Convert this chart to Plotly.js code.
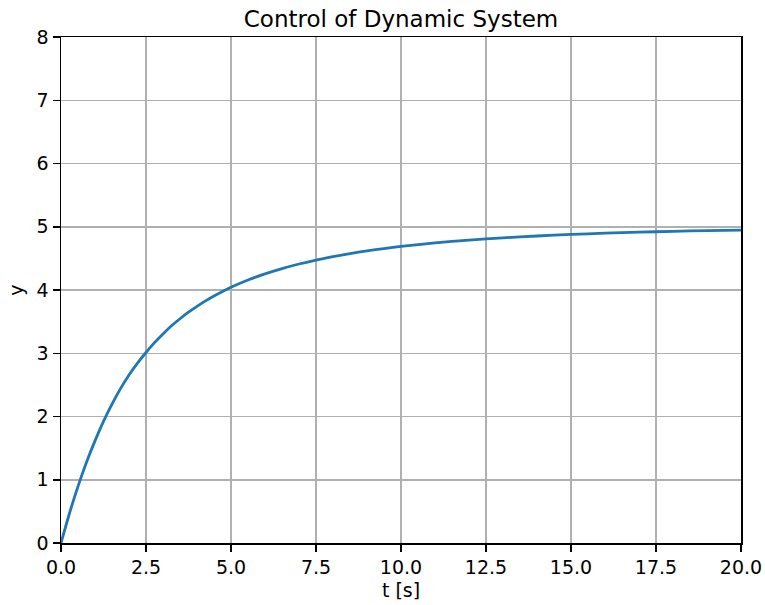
<!DOCTYPE html>
<html>
<head>
<meta charset="utf-8">
<script src="https://cdn.plot.ly/plotly-3.0.1.min.js"></script>
<style>html,body{margin:0;padding:0;background:#fff;}#chart{width:765px;height:605px;}</style>
</head>
<body>
<div id="chart"></div>
<script>
const tValues = [0, 0.25, 0.5, 0.75, 1.0, 1.25, 1.5, 1.75, 2.0, 2.25, 2.5, 2.75, 3.0, 3.25, 3.5, 3.75, 4.0, 4.25, 4.5, 4.75, 5.0, 5.5, 6.0, 6.5, 7.0, 7.5, 8.0, 8.5, 9.0, 9.5, 10.0, 11.0, 12.0, 13.0, 14.0, 15.0, 16.0, 17.0, 18.0, 19.0, 20.0];
const yValues = [0, 0.47, 0.896, 1.278, 1.615, 1.922, 2.194, 2.44, 2.656, 2.845, 3.012, 3.168, 3.306, 3.434, 3.546, 3.649, 3.742, 3.828, 3.905, 3.977, 4.042, 4.157, 4.255, 4.339, 4.411, 4.474, 4.528, 4.576, 4.618, 4.655, 4.688, 4.744, 4.789, 4.825, 4.854, 4.878, 4.898, 4.914, 4.9275, 4.9386, 4.948];
const xTicks = [0, 2.5, 5, 7.5, 10, 12.5, 15, 17.5, 20];
const xTickLabels = ["0.0", "2.5", "5.0", "7.5", "10.0", "12.5", "15.0", "17.5", "20.0"];
const yTicks = [0, 1, 2, 3, 4, 5, 6, 7, 8];

const font = "DejaVu Sans, sans-serif";
const trace = {
  x: tValues, y: yValues, type: "scatter", mode: "lines",
  line: {color: "#1f77b4", width: 2.8, shape: "spline", smoothing: 0.6},
  hoverinfo: "skip"
};
const axisCommon = {
  showline: true, linecolor: "#000", linewidth: 1.5, mirror: true,
  ticks: "outside", ticklen: 7, tickwidth: 1.5, tickcolor: "#000",
  showgrid: true, gridcolor: "#b0b0b0", gridwidth: 1.5, zeroline: false,
  tickfont: {family: font, size: 19, color: "#000"}
};
const layout = {
  width: 765, height: 605,
  margin: {l: 61, r: 24, t: 37, b: 62},
  paper_bgcolor: "#fff", plot_bgcolor: "#fff",
  showlegend: false,
  title: {text: "Control of Dynamic System", font: {family: font, size: 23, color: "#000"}, x: 0.5, xref: "paper", y: 0.982, yanchor: "top"},
  xaxis: Object.assign({}, axisCommon, {range: [0, 20], tickvals: xTicks, ticktext: xTickLabels,
    title: {text: "t [s]", font: {family: font, size: 19, color: "#000"}, standoff: 6}}),
  yaxis: Object.assign({}, axisCommon, {range: [0, 8], tickvals: yTicks,
    title: {text: "y", font: {family: font, size: 19, color: "#000"}, standoff: 8}})
};
Plotly.newPlot("chart", [trace], layout, {displayModeBar: false, staticPlot: true});
</script>
</body>
</html>
